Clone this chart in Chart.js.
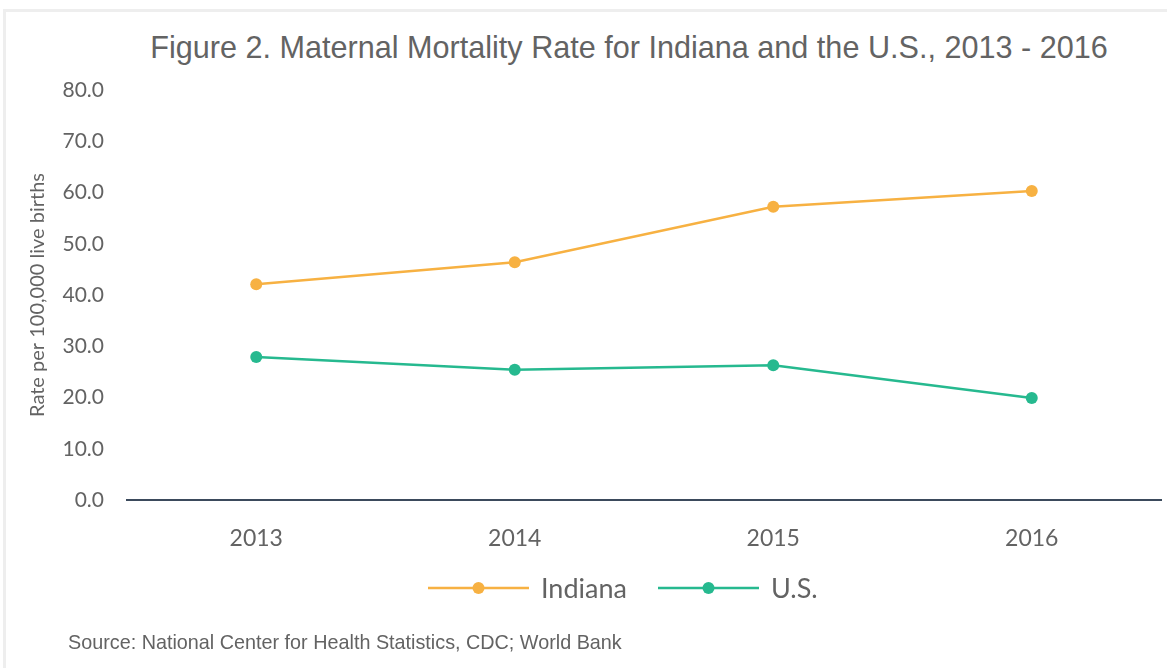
<!DOCTYPE html>
<html>
<head>
<meta charset="utf-8">
<script src="https://cdn.jsdelivr.net/npm/chart.js@4"></script>
<style>
  html, body { margin: 0; padding: 0; background: #fff; }
  body { width: 1167px; height: 668px; position: relative; overflow: hidden; }
  #frame { position: absolute; left: 3px; top: 9px; right: 0; bottom: 0; border-top: 3px solid #eeeeee; border-left: 3px solid #eeeeee; }
  #wrap { position: absolute; left: 0; top: 0; width: 1167px; height: 668px; }
  #title { position: absolute; left: 0; width: 1258px; top: 29px; text-align: center; font-family: "Liberation Sans", sans-serif; font-size: 32px; color: #636363; white-space: nowrap; transform: scaleX(0.956); transform-origin: 629px 0; }
  #source { position: absolute; left: 68px; top: 630px; font-family: "Liberation Sans", sans-serif; font-size: 21px; color: #636363; white-space: nowrap; transform: scaleX(0.942); transform-origin: 0 0; }
</style>
</head>
<body>
<div id="frame"></div>
<div id="title">Figure 2. Maternal Mortality Rate for Indiana and the U.S., 2013 - 2016</div>
<div id="wrap"><canvas id="c" width="1167" height="668"></canvas></div>
<div id="source">Source: National Center for Health Statistics, CDC; World Bank</div>
<script>
const years = ["2013", "2014", "2015", "2016"];
const indiana = [42.1, 46.4, 57.2, 60.3];
const us = [27.9, 25.4, 26.3, 19.9];
const yTicks = [0, 10, 20, 30, 40, 50, 60, 70, 80];
const seriesNames = ["Indiana", "U.S."];
const colors = ["#F7B142", "#26B98F"];

const legendPlugin = {
  id: 'lineDotLegend',
  afterDraw(chart) {
    const ctx = chart.ctx;
    const y = 588;
    const starts = [428, 658];
    ctx.save();
    chart.data.datasets.forEach((ds, i) => {
      const x0 = starts[i];
      ctx.strokeStyle = ds.borderColor;
      ctx.lineWidth = 2.5;
      ctx.beginPath();
      ctx.moveTo(x0, y);
      ctx.lineTo(x0 + 101, y);
      ctx.stroke();
      ctx.fillStyle = ds.borderColor;
      ctx.beginPath();
      ctx.arc(x0 + 50.5, y, 6, 0, Math.PI * 2);
      ctx.fill();
      ctx.fillStyle = '#636363';
      ctx.font = '27px Lato, "Open Sans", sans-serif';
      ctx.textBaseline = 'middle';
      ctx.textAlign = 'left';
      ctx.fillText(ds.label, x0 + 113, y + 1);
    });
    ctx.restore();
  }
};

new Chart(document.getElementById('c'), {
  type: 'line',
  data: {
    labels: years,
    datasets: [
      { label: seriesNames[0], data: indiana, borderColor: colors[0], backgroundColor: colors[0], borderWidth: 2.5, pointRadius: 6, pointHoverRadius: 6, pointBackgroundColor: colors[0], pointBorderWidth: 0, tension: 0 },
      { label: seriesNames[1], data: us, borderColor: colors[1], backgroundColor: colors[1], borderWidth: 2.5, pointRadius: 6, pointHoverRadius: 6, pointBackgroundColor: colors[1], pointBorderWidth: 0, tension: 0 }
    ]
  },
  options: {
    responsive: false,
    animation: false,
    events: [],
    layout: { padding: { top: 90, bottom: 108, left: 20, right: 5 } },
    plugins: {
      legend: { display: false },
      title: { display: false },
      tooltip: { enabled: false }
    },
    scales: {
      x: {
        offset: true,
        grid: { display: false, drawTicks: false },
        border: { display: true, color: '#3b4a5c', width: 2 },
        ticks: { color: '#636363', font: { family: 'Lato, "Open Sans", sans-serif', size: 23 }, padding: 25 },
        afterFit(s) { s.height = 60; }
      },
      y: {
        min: 0, max: 80,
        afterBuildTicks(s) { s.ticks = yTicks.map(v => ({ value: v })); },
        grid: { display: false, drawTicks: false },
        border: { display: false },
        ticks: { color: '#636363', font: { family: 'Lato, "Open Sans", sans-serif', size: 21 }, padding: 23, callback: v => Number(v).toFixed(1) },
        title: { display: true, text: 'Rate per 100,000 live births', color: '#636363', font: { family: 'Lato, "Open Sans", sans-serif', size: 20 }, padding: { top: 6, bottom: 0 } },
        afterFit(s) { s.width = 107; }
      }
    }
  },
  plugins: [legendPlugin]
});
</script>
</body>
</html>
